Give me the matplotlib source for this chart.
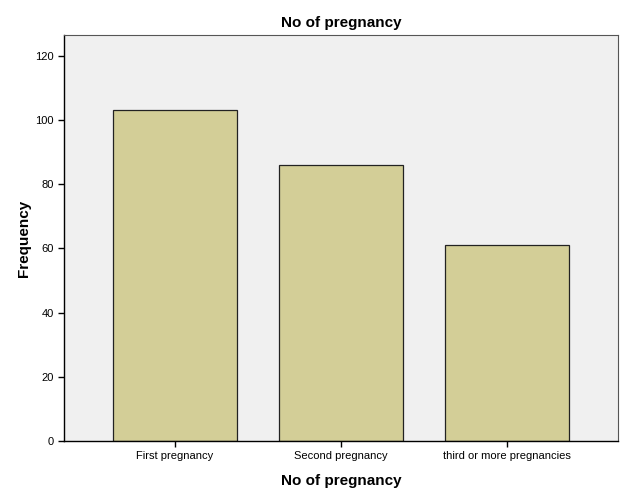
import matplotlib
matplotlib.use("Agg")
import matplotlib.pyplot as plt

categories = ["First pregnancy", "Second pregnancy", "third or more pregnancies"]
frequency = [103, 86, 61]
y_ticks = [0, 20, 40, 60, 80, 100, 120]

plt.rcParams['font.family'] = ['Liberation Sans', 'DejaVu Sans']

fig = plt.figure(figsize=(6.26, 5.01), dpi=100)
ax = fig.add_axes([0.1022, 0.1198, 0.885, 0.8104])
ax.set_facecolor("#F0F0F0")

x = range(len(categories))
ax.bar(x, frequency, width=0.745, color="#D3CE97", edgecolor="#222222", linewidth=0.9)

ax.set_xlim(-0.667, 2.667)
ax.set_ylim(0, 126.5)
ax.set_yticks(y_ticks)
ax.set_xticks(list(x))
ax.set_xticklabels(categories, fontsize=8)
ax.tick_params(axis="y", labelsize=8, length=4, width=1, direction="out")
ax.tick_params(axis="x", length=4, width=1, direction="out")

for side in ["left", "bottom"]:
    ax.spines[side].set_color("black")
    ax.spines[side].set_linewidth(1)
for side in ["top", "right"]:
    ax.spines[side].set_color("#555555")
    ax.spines[side].set_linewidth(0.8)

ax.set_title("No of pregnancy", fontsize=11, fontweight="bold", pad=6)
ax.set_xlabel("No of pregnancy", fontsize=11, fontweight="bold", labelpad=9)
ax.set_ylabel("Frequency", fontsize=11, fontweight="bold", labelpad=3)

fig.savefig("out.png", dpi=100, facecolor="white")
